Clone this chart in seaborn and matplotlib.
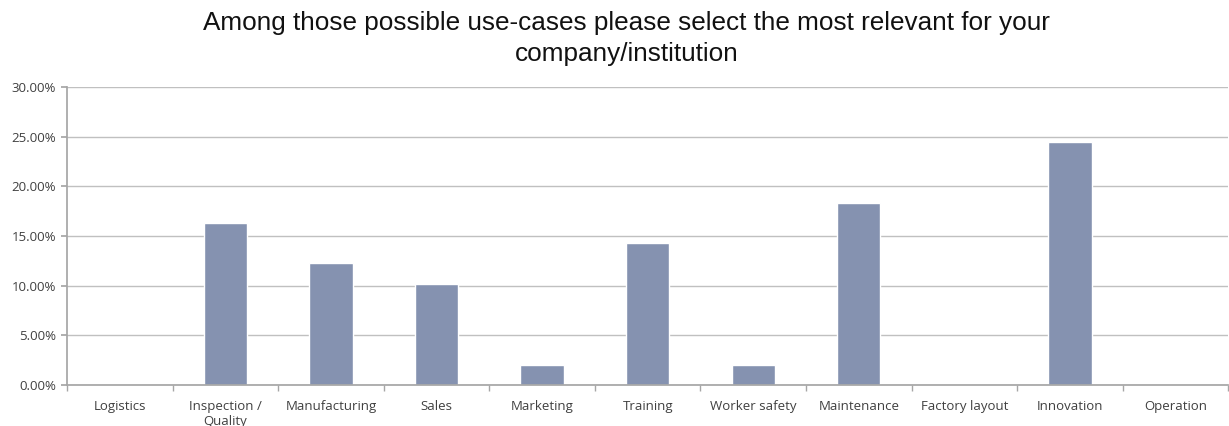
import matplotlib
matplotlib.use("Agg")
import matplotlib.pyplot as plt
import seaborn as sns
import pandas as pd
from matplotlib.ticker import FuncFormatter, FixedLocator

categories = ["Logistics", "Inspection /\nQuality", "Manufacturing", "Sales",
              "Marketing", "Training", "Worker safety", "Maintenance",
              "Factory layout", "Innovation", "Operation"]
shares = [0.0, 16.33, 12.24, 10.20, 2.04, 14.29, 2.04, 18.37, 0.0, 24.49, 0.0]

df = pd.DataFrame({"use_case": categories, "share": shares})

sns.set_theme(style="white")
plt.rcParams["font.family"] = ["Liberation Sans", "DejaVu Sans"]

fig = plt.figure(figsize=(12.29, 4.26), dpi=100)
ax = fig.add_axes([0.0545, 0.096, 0.945, 0.70])

sns.barplot(data=df, x="use_case", y="share", color="#8592b0", width=0.41,
            saturation=1, ax=ax)

ax.set_ylim(0, 30)
ax.set_xlim(-0.5, len(categories) - 0.5)
ax.set_yticks([0, 5, 10, 15, 20, 25, 30])
ax.yaxis.set_major_formatter(FuncFormatter(lambda v, p: "%.2f%%" % v))
ax.yaxis.grid(True, color="#c0c0c0", linewidth=1)
ax.set_axisbelow(True)

for side in ["top", "right"]:
    ax.spines[side].set_visible(False)
ax.spines["left"].set_color("#a6a6a6")
ax.spines["bottom"].set_color("#a6a6a6")

ax.set_xlabel("")
ax.set_ylabel("")
ax.tick_params(axis="x", length=0, labelsize=9.5, labelcolor="#404040", pad=11)
ax.tick_params(axis="y", length=4, color="#a6a6a6", labelsize=9.5,
               labelcolor="#404040", left=True, pad=4)
for lab in ax.get_xticklabels() + ax.get_yticklabels():
    lab.set_family(["Open Sans", "DejaVu Sans"])

# boundary tick marks between categories
ax.xaxis.set_minor_locator(FixedLocator([i - 0.5 for i in range(len(categories) + 1)]))
ax.tick_params(axis="x", which="minor", length=4, color="#a6a6a6", bottom=True)

fig.suptitle("Among those possible use-cases please select the most relevant for your\ncompany/institution",
             fontsize=18.8, y=0.974, x=0.51, color="#111111", linespacing=1.36)

fig.savefig("out.png", dpi=100)
